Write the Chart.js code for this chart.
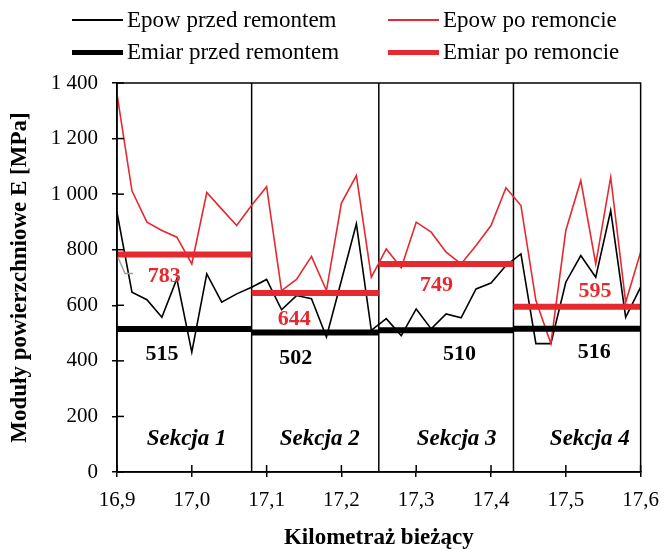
<!DOCTYPE html>
<html>
<head>
<meta charset="utf-8">
<script src="https://cdn.jsdelivr.net/npm/chart.js@4/dist/chart.umd.min.js"></script>
<style>
  body { margin: 0; background: #fff; }
  #wrap { position: relative; width: 670px; height: 549px; }
  #legend { position: absolute; left: 0; top: 0; width: 670px; height: 70px;
            font-family: 'Liberation Serif', serif; font-size: 23px; color: #000; }
  .item { position: absolute; display: flex; align-items: center; white-space: nowrap; height: 26px; }
  .swatch { display: inline-block; width: 51px; margin-right: 4px; }
</style>
</head>
<body>
<div id="wrap">
  <canvas id="chart" width="670" height="549"></canvas>
  <div id="legend"></div>
</div>
<script>
// kilometre positions of the measuring points
const km = [16.90, 16.92, 16.94, 16.96, 16.98, 17.00, 17.02, 17.04, 17.06, 17.08,
            17.10, 17.12, 17.14, 17.16, 17.18, 17.20, 17.22, 17.24, 17.26, 17.28,
            17.30, 17.32, 17.34, 17.36, 17.38, 17.40, 17.42, 17.44, 17.46, 17.48,
            17.50, 17.52, 17.54, 17.56, 17.58, 17.60];
const epowPrzed = [934, 647, 620, 557, 695, 431, 713, 611, 641, 665,
                   693, 584, 635, 624, 486, 689, 893, 510, 552, 491,
                   587, 515, 569, 555, 659, 680, 743, 785, 462, 462,
                   683, 779, 701, 941, 557, 665];
const epowPo = [1360, 1012, 899, 869, 845, 749, 1006, 946, 887, 960,
                1027, 653, 693, 776, 653, 968, 1067, 701, 803, 735,
                899, 863, 791, 749, 815, 887, 1023, 959, 617, 462,
                869, 1049, 749, 1061, 611, 791];

// sections and their mean values
const sectionBounds = [16.9, 17.08, 17.25, 17.43, 17.6];
const sectionNames = ['Sekcja 1', 'Sekcja 2', 'Sekcja 3', 'Sekcja 4'];
const emiarPrzed = [515, 502, 510, 516];
const emiarPo = [783, 644, 749, 595];

const xTicks = [16.9, 17.0, 17.1, 17.2, 17.3, 17.4, 17.5, 17.6];
const xTickLabels = ['16,9', '17,0', '17,1', '17,2', '17,3', '17,4', '17,5', '17,6'];
const yTicks = [0, 200, 400, 600, 800, 1000, 1200, 1400];
const yTickLabels = ['0', '200', '400', '600', '800', '1 000', '1 200', '1 400'];

const RED = '#e42a2f';
const FONT = "'Liberation Serif', serif";

// where the text annotations sit (km along x, pixel offset from the line)
const poLabelKm = [16.963, 17.137, 17.327, 17.539];
const poLabelDy = [22, 26, 21, -15];
const przedLabelKm = [16.960, 17.139, 17.358, 17.538];
const przedLabelDy = [25, 26, 24, 24];
const sectionLabelKm = [16.993, 17.171, 17.354, 17.532];
const sectionLabelY = 120;

function segments(values) {
  const pts = [];
  values.forEach((v, i) => {
    pts.push({ x: sectionBounds[i], y: v }, { x: sectionBounds[i + 1], y: v }, { x: sectionBounds[i + 1], y: null });
  });
  return pts;
}
const dividers = [];
sectionBounds.slice(1, -1).forEach(b => {
  dividers.push({ x: b, y: 0 }, { x: b, y: 1400 }, { x: b, y: null });
});

const legendItems = [
  { text: 'Epow przed remontem', color: '#000', width: 2, left: 72, top: 7 },
  { text: 'Epow po remoncie', color: RED, width: 2, left: 388, top: 7 },
  { text: 'Emiar przed remontem', color: '#000', width: 5, left: 72, top: 39 },
  { text: 'Emiar po remoncie', color: RED, width: 5, left: 388, top: 39 }
];
const legend = document.getElementById('legend');
legendItems.forEach(it => {
  const d = document.createElement('div');
  d.className = 'item';
  d.style.left = it.left + 'px';
  d.style.top = it.top + 'px';
  const s = document.createElement('span');
  s.className = 'swatch';
  s.style.borderTop = it.width + 'px solid ' + it.color;
  d.appendChild(s);
  d.appendChild(document.createTextNode(it.text));
  legend.appendChild(d);
});

const annotations = {
  id: 'annotations',
  afterDatasetsDraw(chart) {
    const { ctx, chartArea: a, scales: { x, y } } = chart;
    ctx.save();
    // frame
    ctx.strokeStyle = '#000';
    ctx.lineWidth = 1.5;
    ctx.strokeRect(a.left, a.top, a.right - a.left, a.bottom - a.top);
    // inner part of tick marks
    yTicks.forEach(v => {
      const py = y.getPixelForValue(v);
      ctx.beginPath(); ctx.moveTo(a.left, py); ctx.lineTo(a.left + 7, py); ctx.stroke();
    });
    xTicks.forEach(v => {
      const px = x.getPixelForValue(v);
      ctx.beginPath(); ctx.moveTo(px, a.bottom); ctx.lineTo(px, a.bottom - 7); ctx.stroke();
    });
    // leader for the first label
    const lx = x.getPixelForValue(sectionBounds[0]);
    const ly = y.getPixelForValue(emiarPo[0]);
    ctx.strokeStyle = '#a0a0a0';
    ctx.beginPath(); ctx.moveTo(lx + 1, ly + 3); ctx.lineTo(lx + 8, ly + 19); ctx.lineTo(lx + 16, ly + 19); ctx.stroke();

    ctx.textAlign = 'center';
    ctx.textBaseline = 'middle';
    ctx.font = 'bold 22px ' + FONT;
    emiarPo.forEach((v, i) => {
      ctx.fillStyle = RED;
      ctx.fillText(String(v), x.getPixelForValue(poLabelKm[i]), y.getPixelForValue(v) + poLabelDy[i]);
    });
    emiarPrzed.forEach((v, i) => {
      ctx.fillStyle = '#000';
      ctx.fillText(String(v), x.getPixelForValue(przedLabelKm[i]), y.getPixelForValue(v) + przedLabelDy[i]);
    });
    ctx.font = 'italic bold 23px ' + FONT;
    ctx.fillStyle = '#000';
    sectionNames.forEach((n, i) => {
      ctx.fillText(n, x.getPixelForValue(sectionLabelKm[i]), y.getPixelForValue(sectionLabelY));
    });
    ctx.restore();
  }
};

new Chart(document.getElementById('chart'), {
  type: 'line',
  data: {
    datasets: [
      { label: 'Emiar po remoncie', data: segments(emiarPo), borderColor: RED, borderWidth: 6, order: 1 },
      { label: 'Emiar przed remontem', data: segments(emiarPrzed), borderColor: '#000', borderWidth: 6, order: 2 },
      { label: 'Epow po remoncie', data: km.map((k, i) => ({ x: k, y: epowPo[i] })), borderColor: RED, borderWidth: 1.6, order: 3 },
      { label: 'Epow przed remontem', data: km.map((k, i) => ({ x: k, y: epowPrzed[i] })), borderColor: '#000', borderWidth: 1.6, order: 4 },
      { label: 'sections', data: dividers, borderColor: '#000', borderWidth: 1.5, order: 5 }
    ]
  },
  options: {
    responsive: false,
    animation: false,
    spanGaps: false,
    elements: { point: { radius: 0 }, line: { tension: 0, borderCapStyle: 'butt' } },
    layout: { padding: { top: 83, right: 21, bottom: 0, left: 0 } },
    plugins: { legend: { display: false }, tooltip: { enabled: false } },
    scales: {
      x: {
        type: 'linear', min: 16.9, max: 17.6,
        afterBuildTicks: s => { s.ticks = xTicks.map(v => ({ value: v })); },
        afterFit: s => { s.height = 77; },
        ticks: { callback: (v, i) => xTickLabels[i], color: '#000', padding: 11,
                 font: { family: FONT, size: 21 }, maxRotation: 0, autoSkip: false },
        grid: { drawOnChartArea: false, tickLength: 5, color: '#000', lineWidth: 1.5 },
        border: { display: true, color: '#000', width: 1.5 },
        title: { display: true, text: 'Kilometraż bieżący', color: '#000',
                 font: { family: FONT, size: 23, weight: 'bold', lineHeight: 1 }, padding: { top: 0, bottom: -1 } }
      },
      y: {
        min: 0, max: 1400,
        afterBuildTicks: s => { s.ticks = yTicks.map(v => ({ value: v })); },
        afterFit: s => { s.width = 117; },
        ticks: { callback: (v, i) => yTickLabels[i], color: '#000', padding: 14,
                 font: { family: FONT, size: 21 } },
        grid: { drawOnChartArea: false, tickLength: 5, color: '#000', lineWidth: 1.5 },
        border: { display: true, color: '#000', width: 1.5 },
        title: { display: true, text: 'Moduły powierzchniowe E [MPa]', color: '#000',
                 font: { family: FONT, size: 23, weight: 'bold' }, padding: { top: 6, bottom: 0 } }
      }
    }
  },
  plugins: [annotations]
});
</script>
</body>
</html>
